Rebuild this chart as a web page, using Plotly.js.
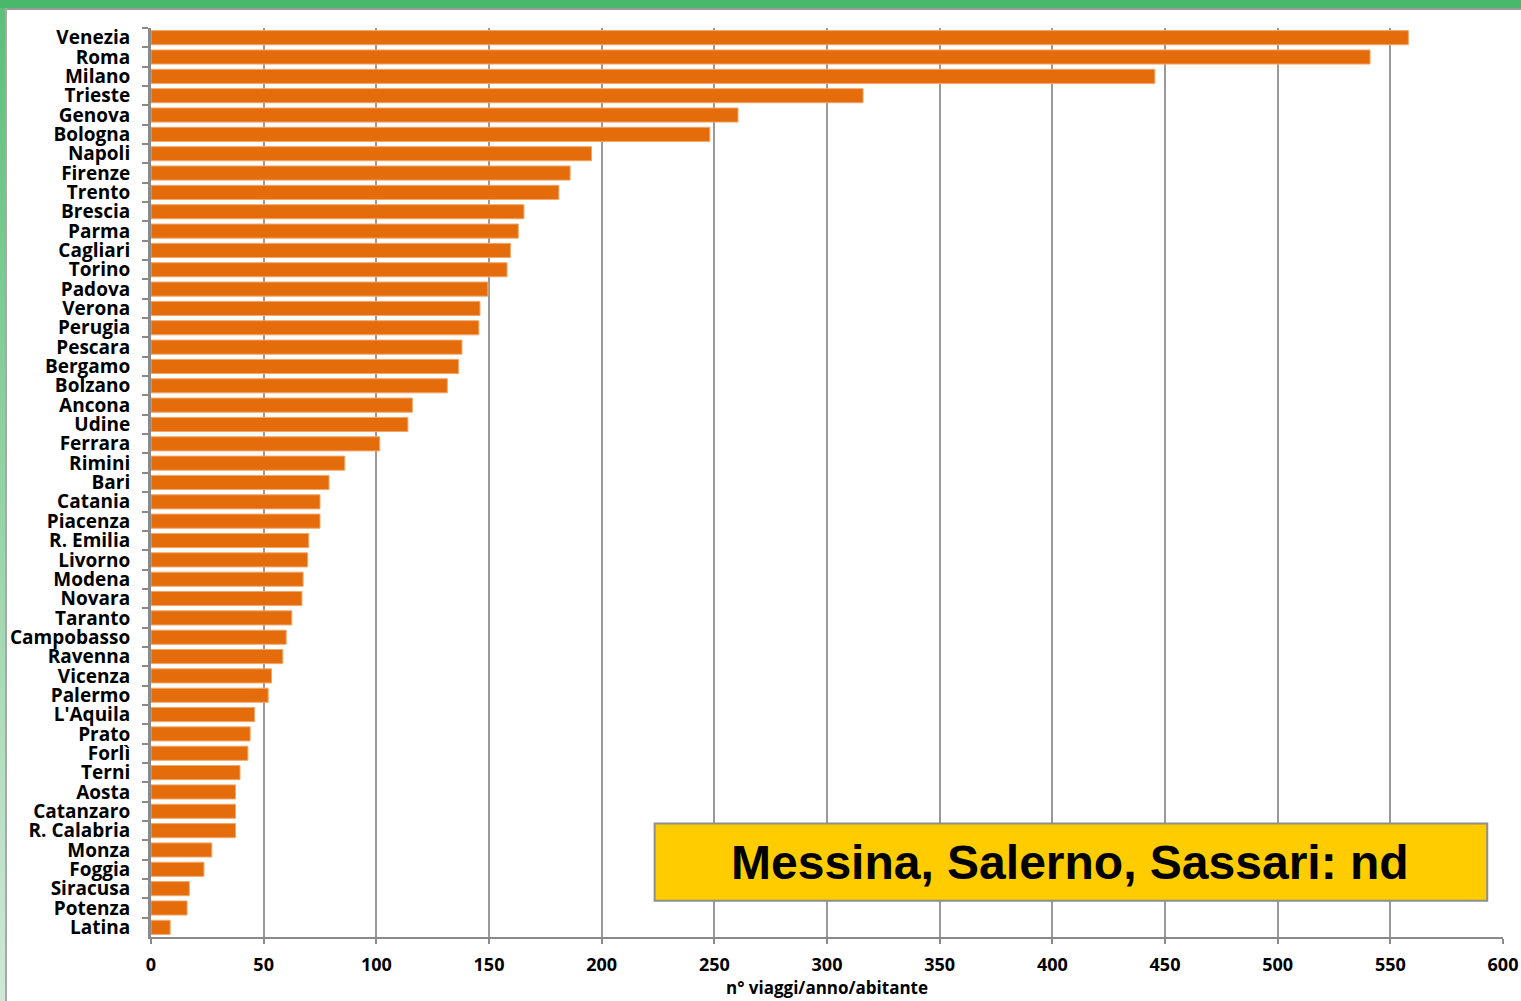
<!DOCTYPE html>
<html>
<head>
<meta charset="utf-8">
<script src="https://cdn.plot.ly/plotly-3.0.1.min.js"></script>
<style>
  html, body { margin: 0; padding: 0; background: #ffffff; }
  #wrap { position: relative; width: 1521px; height: 1001px; overflow: hidden; background: #fff; }
  #topbar { position: absolute; left: 0; top: 0; width: 1521px; height: 8px; background: #4ab86a; }
  #topline { position: absolute; left: 6px; top: 8px; width: 1515px; height: 2px; background: #9a9a9a; }
  #leftbar { position: absolute; left: 0; top: 8px; width: 5px; height: 993px; background: linear-gradient(#5cbf78, #cfe9d6); }
  #leftline { position: absolute; left: 5px; top: 8px; width: 2px; height: 993px; background: #a8a8a8; }
  #chart { position: absolute; left: 0; top: 0; width: 1521px; height: 1001px; }
</style>
</head>
<body>
<div id="wrap">
  <div id="chart"></div>
  <div id="topbar"></div>
  <div id="topline"></div>
  <div id="leftbar"></div>
  <div id="leftline"></div>
</div>
<script>
const cities = ["Venezia","Roma","Milano","Trieste","Genova","Bologna","Napoli","Firenze","Trento","Brescia",
  "Parma","Cagliari","Torino","Padova","Verona","Perugia","Pescara","Bergamo","Bolzano","Ancona",
  "Udine","Ferrara","Rimini","Bari","Catania","Piacenza","R. Emilia","Livorno","Modena","Novara",
  "Taranto","Campobasso","Ravenna","Vicenza","Palermo","L'Aquila","Prato","Forlì","Terni","Aosta",
  "Catanzaro","R. Calabria","Monza","Foggia","Siracusa","Potenza","Latina"];
const trips = [558, 541, 445.5, 316, 260.5, 248, 195.5, 186, 181, 165.5,
  163, 159.5, 158, 149.5, 146, 145.5, 138, 136.5, 131.5, 116,
  114, 101.5, 86, 79, 75, 75, 70, 69.5, 67.5, 67,
  62.5, 60, 58.5, 53.5, 52, 46, 44, 43, 39.5, 37.5,
  37.5, 37.5, 27, 23.5, 17, 16, 8.5];
const xTicks = [0, 50, 100, 150, 200, 250, 300, 350, 400, 450, 500, 550, 600];
const xTitle = "n° viaggi/anno/abitante";
const noteText = "Messina, Salerno, Sassari: nd";

const trace = {
  type: "bar",
  orientation: "h",
  y: cities,
  x: trips,
  marker: { color: "#e46c0a", line: { color: "#f3a66a", width: 1 } },
  hoverinfo: "x+y"
};

const labelFont = "'Open Sans', Lato, sans-serif";

const layout = {
  width: 1521,
  height: 1001,
  margin: { l: 151, r: 18, t: 28, b: 64, pad: 0 },
  paper_bgcolor: "#ffffff",
  plot_bgcolor: "#ffffff",
  bargap: 0.27,
  showlegend: false,
  font: { family: labelFont, color: "#000" },
  xaxis: {
    range: [0, 600],
    tickvals: xTicks,
    ticktext: xTicks.map(String),
    showgrid: true,
    gridcolor: "#9a9a9a",
    gridwidth: 2,
    zeroline: false,
    showline: true,
    linecolor: "#8a8a8a",
    linewidth: 2,
    ticks: "outside",
    ticklen: 5,
    tickwidth: 2,
    tickcolor: "#8a8a8a",
    ticklabelstandoff: 5,
    tickfont: { family: labelFont, size: 18, color: "#000", weight: "bold" },
    title: { text: xTitle, font: { family: labelFont, size: 17, color: "#000", weight: "bold" }, standoff: 2 },
    fixedrange: true
  },
  yaxis: {
    type: "category",
    autorange: "reversed",
    tickmode: "linear",
    tick0: 0,
    dtick: 1,
    showgrid: false,
    zeroline: false,
    showline: true,
    linecolor: "#8a8a8a",
    linewidth: 3,
    ticks: "outside",
    tickson: "boundaries",
    ticklen: 6,
    tickwidth: 2,
    tickcolor: "#8a8a8a",
    ticklabelstandoff: 14,
    tickfont: { family: labelFont, size: 19, color: "#000", weight: "bold" },
    fixedrange: true
  },
  shapes: [{
    type: "rect",
    xref: "x", yref: "paper",
    x0: 223.5, x1: 593, y0: 0.04, y1: 0.125,
    fillcolor: "#ffcc00",
    line: { color: "#8e8e8e", width: 2 },
    layer: "above"
  }],
  annotations: [{
    xref: "x", yref: "paper",
    x: 408, y: 0.0825,
    text: noteText,
    showarrow: false,
    xanchor: "center", yanchor: "middle",
    font: { family: "'Liberation Sans', Arial, sans-serif", size: 48, color: "#000", weight: "bold" }
  }]
};

Plotly.newPlot("chart", [trace], layout, { displayModeBar: false, staticPlot: true });
</script>
</body>
</html>
